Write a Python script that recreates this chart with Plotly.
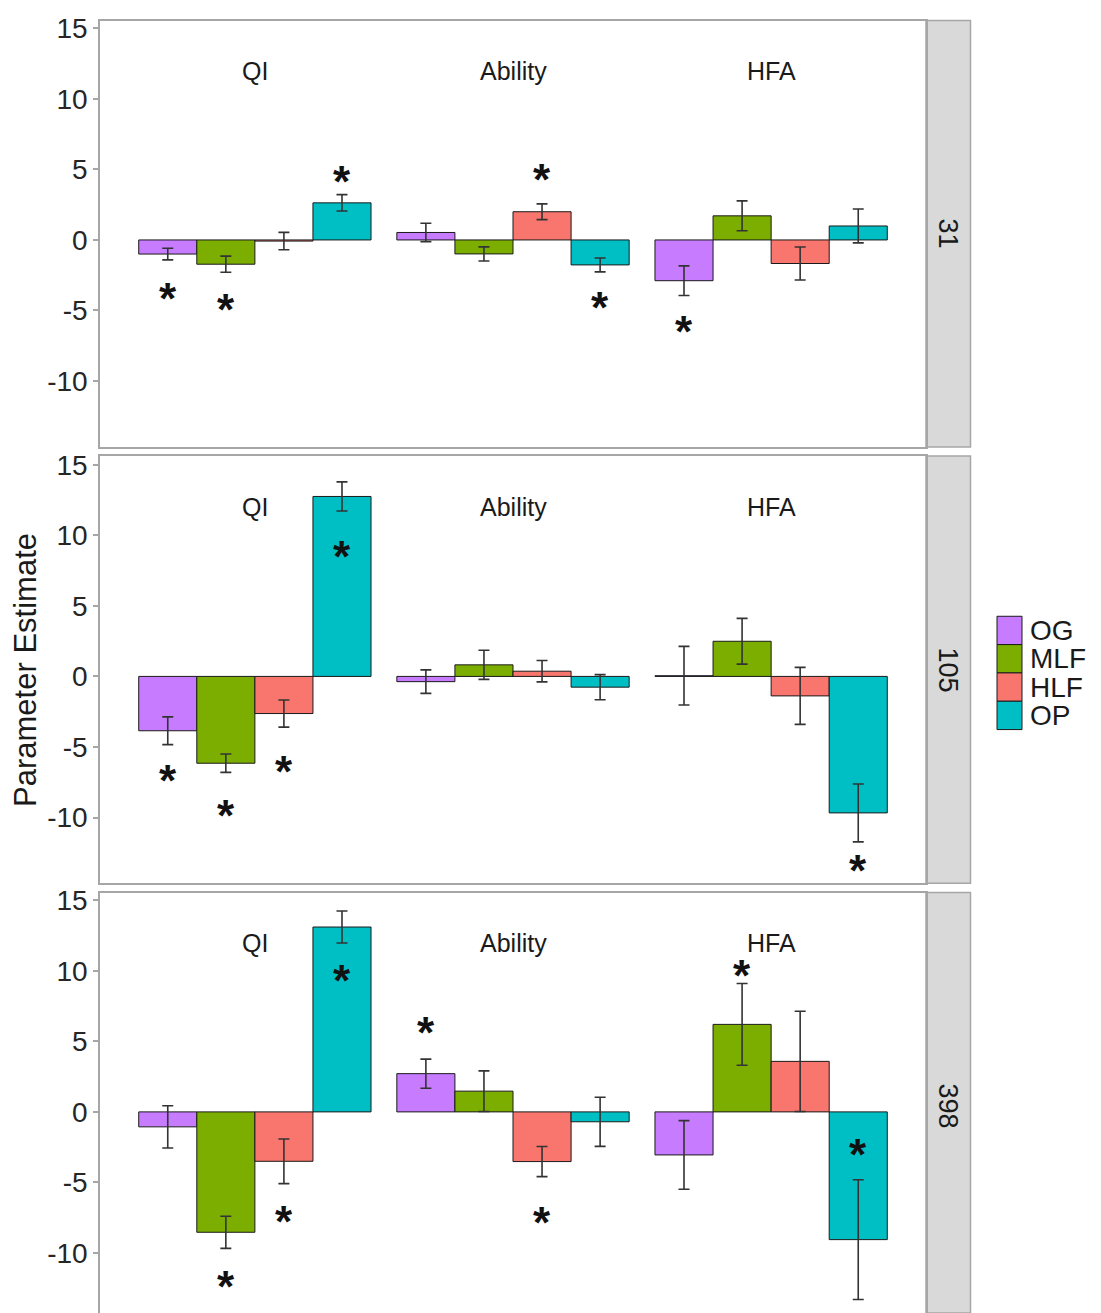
import plotly.graph_objects as go

# ---------------- data ----------------
measures = ["QI", "Ability", "HFA"]
groups = ["OG", "MLF", "HLF", "OP"]
colors = ["#C77CFF", "#7CAE00", "#F8766D", "#00BFC4"]
panels = ["31", "105", "398"]
y_ticks = [-10, -5, 0, 5, 10, 15]

# parameter estimates (per group, across measures QI / Ability / HFA)
est_31 = {"OG": [-1.00, 0.53, -2.89], "MLF": [-1.72, -0.99, 1.71],
          "HLF": [-0.08, 2.00, -1.67], "OP": [2.63, -1.77, 0.99]}
est_105 = {"OG": [-3.85, -0.37, 0.05], "MLF": [-6.15, 0.82, 2.49],
           "HLF": [-2.63, 0.37, -1.38], "OP": [12.75, -0.76, -9.67]}
est_398 = {"OG": [-1.06, 2.71, -3.05], "MLF": [-8.53, 1.47, 6.20],
           "HLF": [-3.50, -3.52, 3.58], "OP": [13.10, -0.70, -9.05]}

# error bar half-widths
err_31 = {"OG": [0.41, 0.65, 1.05], "MLF": [0.57, 0.50, 1.06],
          "HLF": [0.62, 0.56, 1.17], "OP": [0.58, 0.49, 1.20]}
err_105 = {"OG": [0.98, 0.83, 2.08], "MLF": [0.65, 1.03, 1.62],
           "HLF": [0.96, 0.76, 2.02], "OP": [1.03, 0.89, 2.05]}
err_398 = {"OG": [1.50, 1.03, 2.43], "MLF": [1.14, 1.44, 2.90],
           "HLF": [1.58, 1.07, 3.55], "OP": [1.13, 1.74, 4.24]}

# significance asterisk label heights (None = not significant)
sig_31 = {"OG": [-3.5, None, -5.87], "MLF": [-4.27, None, None],
          "HLF": [None, 4.95, None], "OP": [4.76, -4.13, None]}
sig_105 = {"OG": [-6.73, None, None], "MLF": [-9.25, None, None],
           "HLF": [-6.1, None, None], "OP": [9.1, None, -13.1]}
sig_398 = {"OG": [None, 6.27, None], "MLF": [-11.75, None, 10.3],
           "HLF": [-7.1, -7.2, None], "OP": [9.96, None, -2.4]}

facet_label_y = 12

estimates = [est_31, est_105, est_398]
errors = [err_31, err_105, err_398]
sigs = [sig_31, sig_105, sig_398]

# ---------------- layout helpers ----------------
W, H = 1101, 1313
FONT = "Liberation Sans, Arial, sans-serif"


def px_x(p):
    return p / W


def px_y(p):
    return 1 - p / H


panel_px = [(12.7, 441.7), (450.7, 880.7), (890.0, 1313.0)]
y_ranges = [[-14.68, 15.55], [-14.66, 15.62], [-14.25, 15.54]]
x_left, x_right = 100, 926
strip_right = 970.5

fig = go.Figure()
annotations = []
shapes = []
layout = {}
bar_w = 0.9 / len(groups)
x_idx = list(range(len(measures)))

for k, pname in enumerate(panels):
    s = "" if k == 0 else str(k + 1)
    for gi, g in enumerate(groups):
        fig.add_trace(go.Bar(
            x=x_idx, y=estimates[k][g], name=g,
            marker=dict(color=colors[gi], line=dict(color="#1a1a1a", width=1)),
            error_y=dict(type="data", array=errors[k][g], color="#333333",
                         thickness=1.6, width=5.5),
            xaxis="x" + s, yaxis="y" + s, offsetgroup=g,
            showlegend=False,
        ))
        for mi in x_idx:
            yv = sigs[k][g][mi]
            if yv is not None:
                annotations.append(dict(
                    x=mi + (gi - (len(groups) - 1) / 2) * bar_w, y=yv,
                    xref="x" + s, yref="y" + s, text="<b>*</b>", showarrow=False,
                    font=dict(size=44, color="#111111", family=FONT),
                    xanchor="center", yanchor="middle", yshift=-9))
    for mi, m in enumerate(measures):
        annotations.append(dict(
            x=mi, y=facet_label_y, xref="x" + s, yref="y" + s, text=m,
            showarrow=False, font=dict(size=25, color="#1a1a1a", family=FONT),
            xanchor="center", yanchor="middle"))
    top, bot = panel_px[k]
    dom_y = [max(px_y(bot), 0), px_y(top)]
    layout["xaxis" + s] = dict(
        domain=[px_x(x_left), px_x(x_right)], range=[-0.6, 2.6],
        anchor="y" + s, showticklabels=False, ticks="", showgrid=False,
        zeroline=False, showline=True, linecolor="#A6A6A6", linewidth=1.5,
        mirror=True)
    layout["yaxis" + s] = dict(
        domain=dom_y, range=y_ranges[k], anchor="x" + s,
        tickvals=y_ticks, ticktext=[str(v) for v in y_ticks],
        ticks="outside", ticklen=5, tickwidth=1.5,
        tickcolor="#A6A6A6", showgrid=False, zeroline=False,
        showline=True, linecolor="#A6A6A6", linewidth=1.5, mirror=True,
        tickfont=dict(size=28, color="#262626", family=FONT))
    # facet strip on the right
    shapes.append(dict(type="rect", xref="paper", yref="paper",
                       x0=px_x(x_right), x1=px_x(strip_right),
                       y0=dom_y[0], y1=dom_y[1],
                       fillcolor="#D9D9D9", line=dict(color="#A6A6A6", width=1.5),
                       layer="below"))
    strip_mid = (top + bot) / 2 if k < 2 else (top + 1319) / 2
    annotations.append(dict(
        x=px_x((x_right + strip_right) / 2), y=px_y(strip_mid),
        xref="paper", yref="paper", text=pname, textangle=90, showarrow=False,
        font=dict(size=27, color="#1a1a1a", family=FONT),
        xanchor="center", yanchor="middle"))

# y axis title
annotations.append(dict(
    x=px_x(26), y=px_y(666), xref="paper", yref="paper",
    text="Parameter Estimate", textangle=-90, showarrow=False,
    font=dict(size=31, color="#1a1a1a", family=FONT),
    xanchor="center", yanchor="middle"))

# legend (manual, large keys)
key_x0, key_x1 = 997, 1022
key_top, key_h = 612, 28.5
for gi, g in enumerate(groups):
    y0 = key_top + gi * key_h
    shapes.append(dict(type="rect", xref="paper", yref="paper",
                       x0=px_x(key_x0), x1=px_x(key_x1),
                       y0=px_y(y0 + key_h), y1=px_y(y0),
                       fillcolor=colors[gi], line=dict(color="#1a1a1a", width=1)))
    annotations.append(dict(
        x=px_x(1028), y=px_y(y0 + key_h / 2), xref="paper", yref="paper",
        text=g, showarrow=False, font=dict(size=28, color="#1a1a1a", family=FONT),
        xanchor="left", yanchor="middle"))

fig.update_layout(
    width=W, height=H, margin=dict(l=0, r=0, t=0, b=0),
    paper_bgcolor="white", plot_bgcolor="white",
    barmode="group", bargap=0.1, bargroupgap=0,
    annotations=annotations, shapes=shapes, showlegend=False,
    **layout)

fig.write_html(
    "out.html",
    config={"displayModeBar": False},
    post_script="document.body.style.margin='0';document.body.style.overflow='hidden';")
